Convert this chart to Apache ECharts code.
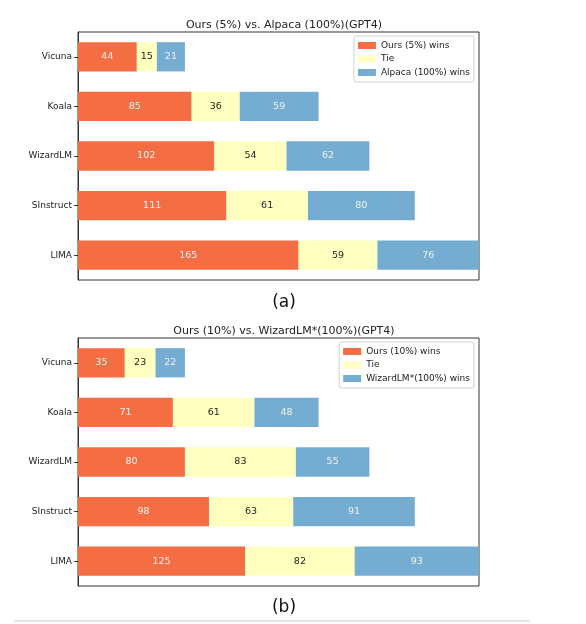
<!DOCTYPE html>
<html>
<head>
<meta charset="utf-8">
<script src="https://cdn.jsdelivr.net/npm/echarts@6/dist/echarts.min.js"></script>
<style>
  html, body { margin: 0; padding: 0; background: #fff; }
  #chart { width: 586px; height: 624px; }
</style>
</head>
<body>
<div id="chart"></div>
<script>
var categories = ["Vicuna", "Koala", "WizardLM", "SInstruct", "LIMA"];

// (a) Ours (5%) vs. Alpaca (100%)
var aOurs = [44, 85, 102, 111, 165];
var aTie = [15, 36, 54, 61, 59];
var aAlpaca = [21, 59, 62, 80, 76];

// (b) Ours (10%) vs. WizardLM* (100%)
var bOurs = [35, 71, 80, 98, 125];
var bTie = [23, 61, 83, 63, 82];
var bWizard = [22, 48, 55, 91, 93];

var font = "DejaVu Sans";
var colors = ["#f46d43", "#ffffbf", "#74add1"];

var myChart = echarts.init(document.getElementById("chart"));

function makeBar(name, data, idx, colorIdx) {
    return {
        name: name,
        type: "bar",
        stack: "s" + idx,
        xAxisIndex: idx,
        yAxisIndex: idx,
        data: data,
        barCategoryGap: "41%",
        itemStyle: { color: colors[colorIdx] },
        label: {
            show: true,
            position: "inside",
            fontFamily: font,
            fontSize: 9.5,
            color: colorIdx === 1 ? "#222" : "#f2f2f2"
        },
        emphasis: { disabled: true }
    };
}

function makeLegend(names, top) {
    return {
        orient: "vertical",
        right: 112,
        top: top,
        icon: "rect",
        itemWidth: 18,
        itemHeight: 7,
        itemGap: 2.5,
        padding: [4, 4, 4, 4],
        borderColor: "#d0d0d0",
        borderWidth: 1,
        borderRadius: 2,
        backgroundColor: "#fff",
        selectedMode: false,
        textStyle: { fontFamily: font, fontSize: 9, color: "#222", lineHeight: 11 },
        data: names
    };
}

function makeY(idx) {
    return {
        type: "category",
        gridIndex: idx,
        data: categories,
        inverse: true,
        axisLine: { show: true, lineStyle: { color: "#333" } },
        axisTick: { show: true, alignWithLabel: true, length: 4, lineStyle: { color: "#333" } },
        axisLabel: { fontFamily: font, fontSize: 9, color: "#222", margin: 6 }
    };
}

function makeX(idx) {
    return {
        type: "value",
        gridIndex: idx,
        min: 0,
        max: 300,
        show: false
    };
}

var option = {
    animation: false,
    title: [
        { text: "Ours (5%) vs. Alpaca (100%)(GPT4)", left: 279, top: 15, textAlign: "center",
          textStyle: { fontFamily: font, fontSize: 11, fontWeight: "normal", color: "#222" } },
        { text: "(a)", left: 279, top: 289, textAlign: "center",
          textStyle: { fontFamily: font, fontSize: 17, fontWeight: "normal", color: "#111" } },
        { text: "Ours (10%) vs. WizardLM*(100%)(GPT4)", left: 279, top: 321, textAlign: "center",
          textStyle: { fontFamily: font, fontSize: 11, fontWeight: "normal", color: "#222" } },
        { text: "(b)", left: 279, top: 594, textAlign: "center",
          textStyle: { fontFamily: font, fontSize: 17, fontWeight: "normal", color: "#111" } }
    ],
    legend: [
        makeLegend(["Ours (5%) wins", "Tie", "Alpaca (100%) wins"], 36),
        makeLegend(["Ours (10%) wins", "Tie", "WizardLM*(100%) wins"], 342)
    ],
    grid: [
        { left: 78, top: 32, width: 401, height: 248, show: true, borderColor: "#333", borderWidth: 1 },
        { left: 78, top: 338, width: 401, height: 248, show: true, borderColor: "#333", borderWidth: 1 }
    ],
    xAxis: [makeX(0), makeX(1)],
    yAxis: [makeY(0), makeY(1)],
    series: [
        makeBar("Ours (5%) wins", aOurs, 0, 0),
        makeBar("Tie", aTie, 0, 1),
        makeBar("Alpaca (100%) wins", aAlpaca, 0, 2),
        makeBar("Ours (10%) wins", bOurs, 1, 0),
        makeBar("Tie", bTie, 1, 1),
        makeBar("WizardLM*(100%) wins", bWizard, 1, 2)
    ],
    graphic: [{
        type: "line",
        shape: { x1: 14, y1: 621, x2: 530, y2: 621 },
        style: { stroke: "#dcdcdc", lineWidth: 1.5 }
    }]
};

myChart.setOption(option);
</script>
</body>
</html>
